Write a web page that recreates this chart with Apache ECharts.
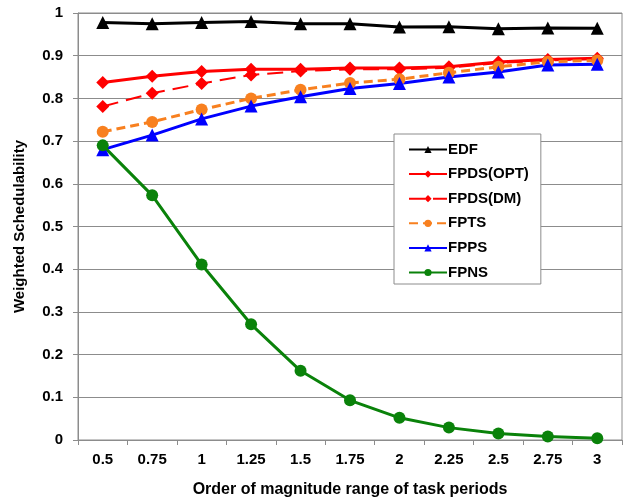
<!DOCTYPE html>
<html><head><meta charset="utf-8">
<script src="https://cdn.jsdelivr.net/npm/echarts@6/dist/echarts.min.js"></script>
<style>html,body{margin:0;padding:0;background:#fff}#c{width:623px;height:500px}</style>
</head><body><div id="c"></div>
<script>
const categories = ['0.5','0.75','1','1.25','1.5','1.75','2','2.25','2.5','2.75','3'];
const yTicks = ['0','0.1','0.2','0.3','0.4','0.5','0.6','0.7','0.8','0.9','1'];
const edf     = [0.978,0.975,0.978,0.980,0.975,0.975,0.967,0.968,0.963,0.965,0.964];
const fpdsOpt = [0.837,0.852,0.863,0.868,0.868,0.871,0.871,0.874,0.885,0.891,0.894];
const fpdsDm  = [0.781,0.812,0.835,0.855,0.864,0.868,0.868,0.872,0.883,0.889,0.892];
const fpts    = [0.722,0.745,0.774,0.800,0.820,0.836,0.845,0.860,0.874,0.886,0.889];
const fpps    = [0.680,0.714,0.752,0.782,0.804,0.823,0.835,0.850,0.862,0.878,0.880];
const fpns    = [0.690,0.573,0.411,0.271,0.162,0.093,0.052,0.029,0.015,0.008,0.004];

const font = 'Liberation Sans, Arial, sans-serif';
function s(name, data, color, symbol, size, type, width){
  return {name, type:'line', data, symbol, symbolSize:size, showSymbol:true,
    lineStyle:{color, width, type}, itemStyle:{color}, animation:false};
}
const chart = echarts.init(document.getElementById('c'));
chart.setOption({
  animation:false,
  grid:{left:78, right:1, top:13, bottom:60, show:true, borderColor:'#8c8c8c', borderWidth:1,
    containLabel:false, outerBoundsMode:'none'},
  xAxis:{type:'category', data:categories, boundaryGap:true,
    name:'Order of magnitude range of task periods', nameLocation:'middle', nameGap:42,
    nameTextStyle:{fontFamily:font, fontWeight:'bold', fontSize:16, color:'#000'},
    axisLine:{lineStyle:{color:'#8c8c8c'}}, axisTick:{show:true, length:5, lineStyle:{color:'#8c8c8c'}},
    axisLabel:{fontFamily:font, fontWeight:'bold', fontSize:15, color:'#000', margin:12}},
  yAxis:{type:'value', min:0, max:1, interval:0.1,
    name:'Weighted Schedulability', nameLocation:'middle', nameGap:51, nameRotate:90,
    nameTextStyle:{fontFamily:font, fontWeight:'bold', fontSize:15, color:'#000'},
    axisLine:{show:true, lineStyle:{color:'#8c8c8c'}}, axisTick:{show:true, length:5, lineStyle:{color:'#8c8c8c'}},
    splitLine:{lineStyle:{color:'#8c8c8c', width:1}},
    axisLabel:{fontFamily:font, fontWeight:'bold', fontSize:15, color:'#000', margin:15,
      formatter:(v)=>yTicks[Math.round(v*10)]}},
  legend:{orient:'vertical', left:394, top:134,
    padding:[8,12,4,14], itemWidth:38, itemHeight:9, itemGap:9.6,
    backgroundColor:'#fff', borderColor:'#8c8c8c', borderWidth:1, borderRadius:0,
    textStyle:{fontFamily:font, fontWeight:'bold', fontSize:15, color:'#000', padding:[0,0,0,-4]}},
  series:[
    s('EDF', edf, '#000000', 'triangle', 13, 'solid', 3),
    s('FPDS(OPT)', fpdsOpt, '#ff0000', 'diamond', 13, 'solid', 3),
    s('FPDS(DM)', fpdsDm, '#ff0000', 'diamond', 13, [16,8], 2),
    s('FPTS', fpts, '#f8801f', 'circle', 12, [9,5], 3),
    s('FPPS', fpps, '#0000ff', 'triangle', 13, 'solid', 3),
    s('FPNS', fpns, '#0a820a', 'circle', 12, 'solid', 3)
  ]
});
</script></body></html>
